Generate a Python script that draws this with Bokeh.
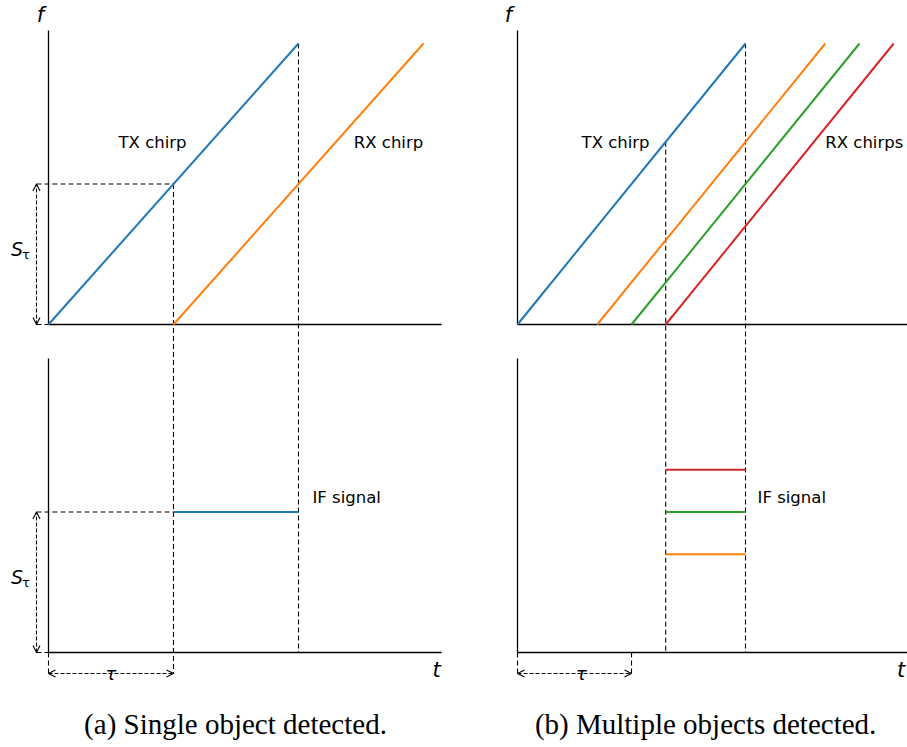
from bokeh.plotting import figure
from bokeh.models import Range1d, Arrow, OpenHead
from bokeh.layouts import row
from bokeh.embed import file_html
from bokeh.resources import INLINE
from bokeh.core.properties import value

# ---------------- data ----------------
chirp_duration = 1.0          # TX chirp lasts one time unit
chirp_top = 1.0               # frequency reached at the chirp end
delays_a = [0.5]              # round-trip delay, single object
delays_b = [0.35, 0.5, 0.65]  # round-trip delays, three objects
rx_colors_a = ["#ff7f0e"]
rx_colors_b = ["#ff7f0e", "#2ca02c", "#d62728"]
if_colors_a = ["#1f77b4"]
if_colors_b = ["#ff7f0e", "#2ca02c", "#d62728"]
tx_color = "#1f77b4"
labels_a = ["TX chirp", "RX chirp", "IF signal"]
labels_b = ["TX chirp", "RX chirps", "IF signal"]
caption_a = "(a) Single object detected."
caption_b = "(b) Multiple objects detected."

# ---------------- layout constants ----------------
TOP = 328 / 281        # vertical offset of the upper (chirp) subplot
AX_H = 1.046           # height of the drawn y axes
ARW_Y = -0.0747        # level of the tau bracket
SANS = value("DejaVu Sans")
SERIF = value("Liberation Serif")
DASH = "5 3"
slope = chirp_top / chirp_duration


def base(width, x0, x1):
    p = figure(width=width, height=747, x_range=Range1d(x0, x1),
               y_range=Range1d(-0.3381, 2.3203), toolbar_location=None,
               output_backend="svg", x_axis_location=None, y_axis_location=None,
               min_border=0)
    p.grid.visible = False
    p.outline_line_color = None
    p.background_fill_color = "white"
    return p


def axes(p, x_end):
    for off in (0.0, TOP):
        p.segment(x0=[0, 0], y0=[off, off], x1=[0, x_end], y1=[off + AX_H, off],
                  line_color="black", line_width=1.3)


def chirps(p, delays, colors):
    p.line([0, chirp_duration], [TOP, TOP + chirp_top], line_color=tx_color, line_width=2)
    for d, c in zip(delays, colors):
        p.line([d, d + chirp_duration], [TOP, TOP + chirp_top], line_color=c, line_width=2)


def if_lines(p, delays, colors):
    start = max(delays)
    for d, c in zip(delays, colors):
        p.line([start, chirp_duration], [d * slope, d * slope], line_color=c, line_width=2)


def dashed(p, x0, y0, x1, y1):
    p.segment(x0=x0, y0=y0, x1=x1, y1=y1, line_color="black", line_width=1.1, line_dash=DASH)


def arrow(p, xs, ys, xe, ye):
    p.add_layout(Arrow(start=OpenHead(size=7, line_width=1.1), end=OpenHead(size=7, line_width=1.1),
                       x_start=xs, y_start=ys, x_end=xe, y_end=ye,
                       line_width=1.1, line_dash="4 2", line_color="black"))


def txt(p, x, y, s, size, font=SANS, style="normal", align="center"):
    p.text(x=[x], y=[y], text=[s], text_font=font, text_font_size=size,
           text_font_style=style, text_align=align, text_baseline="middle",
           text_color="black")


# ---------------- panel (a) ----------------
pa = base(458, -0.192, 1.64)
tau = delays_a[0]
sx = -0.048
axes(pa, 1.572)
dashed(pa,
       [sx, sx, tau, chirp_duration, sx, sx, 0],
       [TOP + tau * slope, TOP, TOP + tau * slope, TOP + chirp_top, tau * slope, 0, 0],
       [tau, 0, tau, chirp_duration, tau, 0, 0],
       [TOP + tau * slope, TOP, ARW_Y, 0, tau * slope, 0, ARW_Y])
chirps(pa, delays_a, rx_colors_a)
if_lines(pa, delays_a, if_colors_a)
arrow(pa, sx, TOP, sx, TOP + tau * slope)
arrow(pa, sx, 0, sx, tau * slope)
arrow(pa, 0, ARW_Y, tau, ARW_Y)
txt(pa, 0.416, TOP + 0.648, labels_a[0], "16.5px")
txt(pa, 1.36, TOP + 0.648, labels_a[1], "16.5px")
txt(pa, 1.056, 0.552, labels_a[2], "16.5px", align="left")
txt(pa, -0.032, TOP + 1.1, "f", "21px", style="italic")
txt(pa, 1.552, -0.064, "t", "21px", style="italic")
for base_y in (TOP, 0.0):
    txt(pa, -0.126, base_y + 0.27, "S", "19px", style="italic")
    txt(pa, -0.090, base_y + 0.25, "τ", "13px")
txt(pa, tau / 2, ARW_Y, "τ", "18px", style="italic")
txt(pa, 0.748, -0.256, caption_a, "29px", font=SERIF)

# ---------------- panel (b) ----------------
pb = base(449, -0.2588, 1.7105)
tau_b = delays_b[1]
dmax = max(delays_b)
axes(pb, 1.72)
dashed(pb,
       [dmax, chirp_duration, 0, tau_b],
       [TOP + dmax * slope, TOP + chirp_top, 0, 0],
       [dmax, chirp_duration, 0, tau_b],
       [0, 0, ARW_Y, ARW_Y])
chirps(pb, delays_b, rx_colors_b)
if_lines(pb, delays_b, if_colors_b)
arrow(pb, 0, ARW_Y, tau_b, ARW_Y)
txt(pb, 0.43, TOP + 0.648, labels_b[0], "16.5px")
txt(pb, 1.35, TOP + 0.648, labels_b[1], "16.5px", align="left")
txt(pb, 1.053, 0.552, labels_b[2], "16.5px", align="left")
txt(pb, -0.04, TOP + 1.1, "f", "21px", style="italic")
txt(pb, 1.682, -0.064, "t", "21px", style="italic")
txt(pb, tau_b / 2 + 0.03, ARW_Y, "τ", "18px", style="italic")
txt(pb, 0.825, -0.256, caption_b, "29px", font=SERIF)

layout = row(pa, pb, spacing=0)
open("out.html", "w").write(file_html(layout, INLINE))
